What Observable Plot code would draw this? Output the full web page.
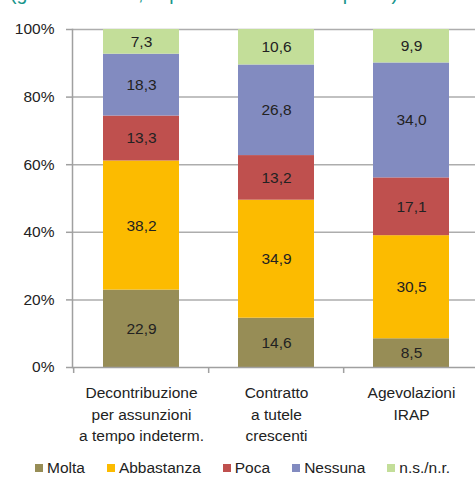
<!DOCTYPE html>
<html>
<head>
<meta charset="utf-8">
<script src="https://cdn.jsdelivr.net/npm/d3@7"></script>
<script src="https://cdn.jsdelivr.net/npm/@observablehq/plot@0.6"></script>
<style>
  html, body { margin: 0; padding: 0; background: #fff; }
  #wrap { position: relative; width: 475px; height: 483px; overflow: hidden; font-family: "Liberation Sans", Arial, sans-serif; }
  #title { position: absolute; left: 10px; top: -17px; font-size: 19.5px; line-height: 20px; color: #17958B; white-space: nowrap; }
  #chart { position: absolute; left: 0; top: 0; }
  #legend { position: absolute; left: 35px; top: 459px; font-size: 15.5px; line-height: 18px; color: #222; display: flex; white-space: nowrap; }
  #legend .item { display: flex; align-items: center; margin-right: 22px; }
  #legend .sw { width: 8px; height: 8px; margin-right: 4px; }
</style>
</head>
<body>
<div id="wrap">
  <div id="chart"></div>
  <div id="title">(grado di utilità, in percentuale sulle imprese)</div>
  <div id="legend"></div>
</div>
<script>
const categories = [
  "Decontribuzione\nper assunzioni\na tempo indeterm.",
  "Contratto\na tutele\ncrescenti",
  "Agevolazioni\nIRAP"
];
const series = ["Molta", "Abbastanza", "Poca", "Nessuna", "n.s./n.r."];
const colors = ["#978D56", "#FCBB00", "#BF504E", "#828BC0", "#C3DE99"];
const molta = [22.9, 14.6, 8.5];
const abbastanza = [38.2, 34.9, 30.5];
const poca = [13.3, 13.2, 17.1];
const nessuna = [18.3, 26.8, 34.0];
const nsnr = [7.3, 10.6, 9.9];
const yTicks = [0, 20, 40, 60, 80, 100];

const seriesValues = [molta, abbastanza, poca, nessuna, nsnr];
const data = [];
series.forEach((s, si) => {
  categories.forEach((c, ci) => {
    data.push({cat: c, series: s, value: seriesValues[si][ci]});
  });
});

const W = 475, H = 450;
const mL = 72, mT = 29, mB = H - 367;
const xRange = [mL, 479];
const step = (xRange[1] - xRange[0]) / categories.length;
const fmt = v => v.toFixed(1).replace(".", ",");

const plot = Plot.plot({
  width: W,
  height: H,
  marginLeft: mL,
  marginRight: 0,
  marginTop: mT,
  marginBottom: mB,
  style: {fontFamily: "'Liberation Sans', Arial, sans-serif", fontSize: "15.5px", color: "#222", background: "#fff"},
  x: {domain: categories, range: xRange, paddingInner: 0.44, paddingOuter: 0.22, align: 0.5, label: null},
  y: {domain: [0, 100], clamp: true, label: null},
  color: {domain: series, range: colors},
  marks: [
    Plot.ruleY([20, 40, 60, 80, 100], {stroke: "#adadad", strokeWidth: 1.5}),
    Plot.barY(data, Plot.stackY({x: "cat", y: "value", fill: "series", order: null})),
    Plot.text(data, Plot.stackY({x: "cat", y: "value", order: null, text: d => fmt(d.value), fill: "#222", fontSize: 15.5})),
    Plot.frame({anchor: "left", stroke: "#a0a0a0", strokeWidth: 1.5}),
    Plot.ruleY([0], {stroke: "#a0a0a0", strokeWidth: 1.5}),
    Plot.ruleX(categories, {x: d => d, y1: 0, y2: 0, insetBottom: -6, dx: -step / 2, stroke: "#a0a0a0", strokeWidth: 1.5}),
    Plot.axisY({ticks: yTicks, tickSize: 6, tickPadding: 12, tickFormat: d => d + "%", stroke: "#a0a0a0", fontSize: 15.5, fill: "#222", strokeWidth: 1.5, label: null}),
    Plot.axisX({tickSize: 0, tickPadding: 15, lineHeight: 1.4, fontSize: 15.5, fill: "#222", label: null})
  ]
});
document.getElementById("chart").appendChild(plot);

const legend = document.getElementById("legend");
series.forEach((s, i) => {
  const item = document.createElement("div");
  item.className = "item";
  const sw = document.createElement("span");
  sw.className = "sw";
  sw.style.background = colors[i];
  const t = document.createElement("span");
  t.textContent = s;
  item.appendChild(sw);
  item.appendChild(t);
  legend.appendChild(item);
});
</script>
</body>
</html>
